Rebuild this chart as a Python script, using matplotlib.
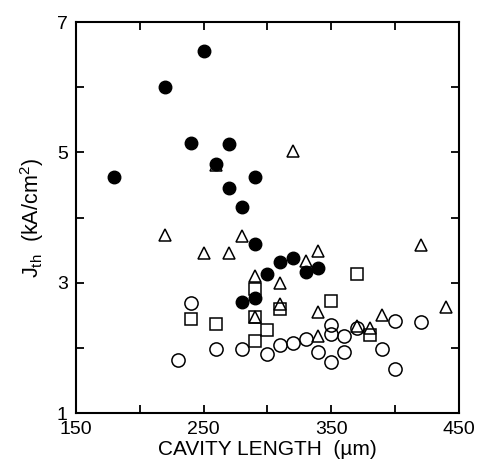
import matplotlib
matplotlib.use('Agg')
import matplotlib.pyplot as plt
from matplotlib.ticker import MultipleLocator

plt.rcParams['font.family'] = ['Liberation Sans', 'DejaVu Sans']

# filled circles
fc_x = [180, 220, 240, 250, 260, 270, 270, 280, 290, 290, 280, 290, 300, 310, 320, 330, 340]
fc_y = [4.62, 6.01, 5.15, 6.56, 4.82, 5.13, 4.45, 4.16, 4.62, 3.60, 2.71, 2.77, 3.14, 3.32, 3.38, 3.17, 3.22]

# open triangles
tri_x = [220, 250, 260, 270, 280, 290, 310, 310, 320, 330, 340, 340, 340, 370, 380, 390, 420, 440, 290]
tri_y = [3.74, 3.45, 4.80, 3.45, 3.71, 3.10, 3.00, 2.68, 5.02, 3.34, 3.48, 2.55, 2.18, 2.33, 2.31, 2.50, 3.58, 2.62, 2.47]

# open squares
sq_x = [240, 260, 290, 290, 290, 300, 310, 350, 370, 380]
sq_y = [2.44, 2.37, 2.91, 2.47, 2.10, 2.27, 2.60, 2.72, 3.13, 2.20]

# open circles
oc_x = [230, 240, 260, 280, 300, 310, 320, 330, 340, 350, 350, 350, 360, 360, 370, 390, 400, 400, 420]
oc_y = [1.81, 2.69, 1.99, 1.99, 1.90, 2.04, 2.08, 2.14, 1.94, 2.35, 2.22, 1.78, 2.18, 1.93, 2.31, 1.98, 2.42, 1.67, 2.40]

fig = plt.figure(figsize=(4.85, 4.72), dpi=100)
ax = fig.add_axes([0.157, 0.125, 0.789, 0.828])

ax.plot(tri_x, tri_y, '^', ms=8.5, mfc='white', mec='black', mew=1.1, ls='none', zorder=2)
ax.plot(sq_x, sq_y, 's', ms=8.5, mfc='none', mec='black', mew=1.1, ls='none', zorder=3)
ax.plot(oc_x, oc_y, 'o', ms=9.5, mfc='none', mec='black', mew=1.1, ls='none', zorder=3)
ax.plot(fc_x, fc_y, 'o', ms=9.0, mfc='black', mec='black', ls='none', zorder=4)

ax.set_xlim(150, 450)
ax.set_ylim(1, 7)
ax.set_xticks([150, 250, 350, 450])
ax.xaxis.set_minor_locator(MultipleLocator(50))
ax.set_yticks([1, 3, 5, 7])
ax.yaxis.set_minor_locator(MultipleLocator(1))

ax.tick_params(which='both', direction='in', top=True, right=True, width=1.3, labelsize=14, pad=6)
ax.tick_params(which='major', length=6)
ax.tick_params(which='minor', length=6)
for s in ax.spines.values():
    s.set_linewidth(1.5)

ax.set_xlabel('CAVITY LENGTH  (µm)', fontsize=15, labelpad=1)
ax.set_ylabel(r'J$_{\mathregular{th}}$  (kA/cm$^{\mathregular{2}}$)', fontsize=15.5, labelpad=8)

fig.savefig('out.png', dpi=100)
